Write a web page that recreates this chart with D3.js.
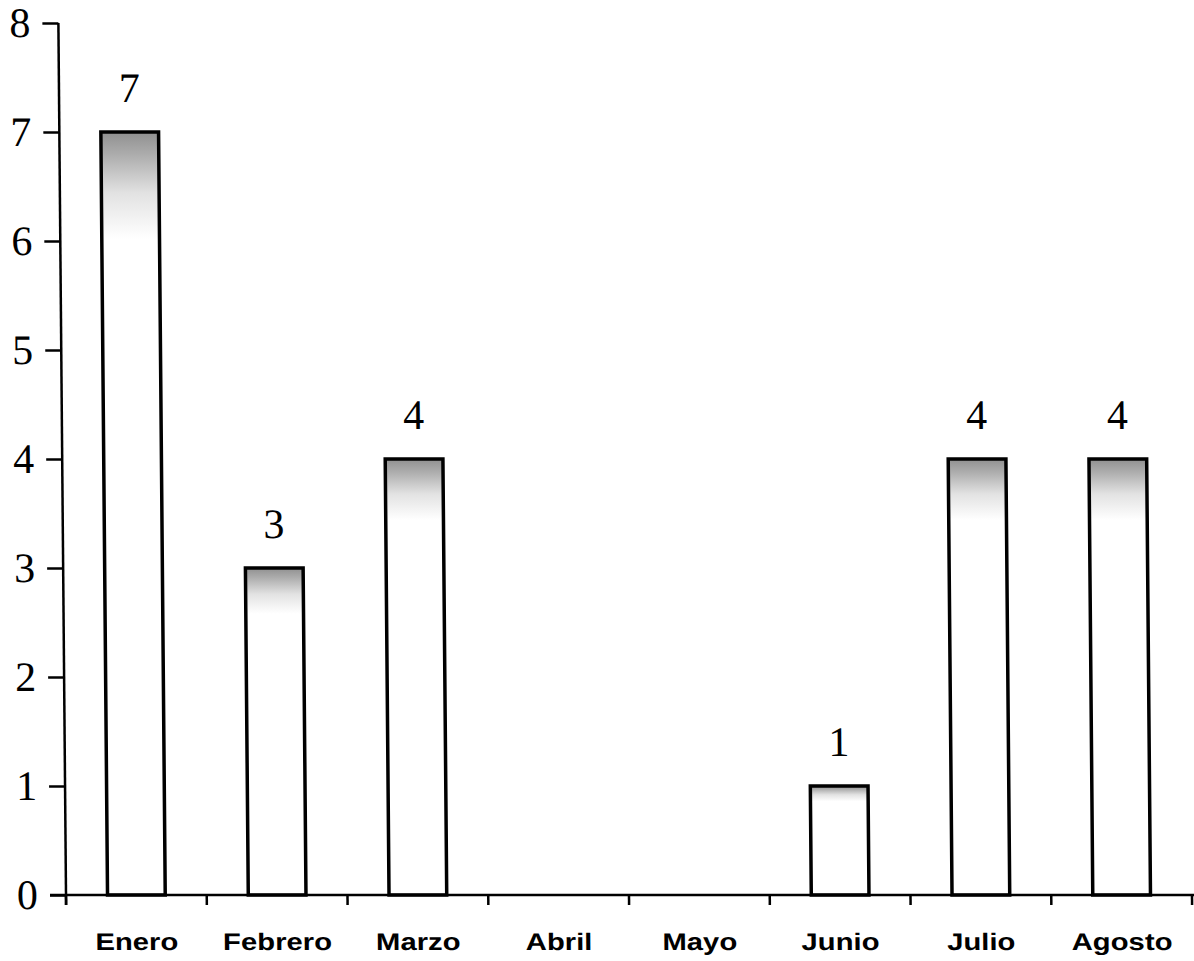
<!DOCTYPE html>
<html>
<head>
<meta charset="utf-8">
<script src="https://cdn.jsdelivr.net/npm/d3@7"></script>
<style>
  html, body { margin: 0; padding: 0; background: #fff; }
  svg { display: block; }
</style>
</head>
<body>
<script>
// Monthly counts
const months = ["Enero", "Febrero", "Marzo", "Abril", "Mayo", "Junio", "Julio", "Agosto"];
const counts = [7, 3, 4, 0, 0, 1, 4, 4];
const yTicks = [0, 1, 2, 3, 4, 5, 6, 7, 8];

const W = 1194, H = 961;
const baseY = 895;

const svg = d3.select("body").append("svg")
  .attr("width", W).attr("height", H);

const defs = svg.append("defs");
const grad = defs.append("linearGradient")
  .attr("id", "barFill")
  .attr("x1", 0).attr("y1", 0).attr("x2", 0).attr("y2", 1);
grad.append("stop").attr("offset", 0).attr("stop-color", "#909090");
grad.append("stop").attr("offset", 0.03).attr("stop-color", "#adadad");
grad.append("stop").attr("offset", 0.08).attr("stop-color", "#e2e2e2");
grad.append("stop").attr("offset", 0.14).attr("stop-color", "#ffffff");

// slight lean of the whole chart, pivoting on the baseline
const g = svg.append("g")
  .attr("transform", `translate(0,${baseY}) skewX(0.5) translate(0,${-baseY})`);

const x = d3.scaleBand()
  .domain(months)
  .range([66, 1192])
  .paddingInner(0.59)
  .paddingOuter(0.295);

const y = d3.scaleLinear()
  .domain([0, 8])
  .range([baseY, 23]);

// bars
g.selectAll("rect.bar")
  .data(counts)
  .join("rect")
  .attr("class", "bar")
  .attr("x", (d, i) => x(months[i]))
  .attr("y", d => y(d))
  .attr("width", x.bandwidth())
  .attr("height", d => baseY - y(d))
  .attr("fill", "url(#barFill)")
  .attr("stroke", "#000")
  .attr("stroke-width", 3.5);

// value labels
g.selectAll("text.val")
  .data(counts.map((d, i) => ({ d, m: months[i] })).filter(o => o.d > 0))
  .join("text")
  .attr("class", "val")
  .attr("x", o => x(o.m) + x.bandwidth() / 2)
  .attr("y", o => y(o.d) - 30)
  .attr("text-anchor", "middle")
  .attr("font-family", "'Liberation Serif', 'DejaVu Serif', serif")
  .attr("font-size", 42)
  .attr("fill", "#000")
  .text(o => o.d);

// y axis
const yAxis = d3.axisLeft(y)
  .tickValues(yTicks)
  .tickSize(16)
  .tickPadding(12)
  .tickFormat(d3.format("d"));

const ya = g.append("g")
  .attr("transform", "translate(66,0)")
  .call(yAxis);
ya.select(".domain").attr("stroke-width", 2.5).attr("d", `M0,${y(8)}V${baseY + 10}`);
ya.selectAll(".tick line").attr("stroke-width", 2.5);
ya.selectAll(".tick text")
  .attr("font-family", "'Liberation Serif', 'DejaVu Serif', serif")
  .attr("font-size", 42)
  .attr("fill", "#000");

// x axis
const xTickPos = months.map(m => x(m) - (x.step() - x.bandwidth()) / 2).concat([1192]);
const xa = g.append("g");
xa.append("line")
  .attr("x1", 50).attr("x2", 1194)
  .attr("y1", baseY).attr("y2", baseY)
  .attr("stroke", "#000").attr("stroke-width", 2.5);
xa.selectAll("line.xt")
  .data(xTickPos)
  .join("line")
  .attr("class", "xt")
  .attr("x1", d => d).attr("x2", d => d)
  .attr("y1", baseY).attr("y2", baseY + 10)
  .attr("stroke", "#000").attr("stroke-width", 2.5);

// month labels, slightly stretched horizontally
xa.selectAll("g.lab")
  .data(months)
  .join("g")
  .attr("class", "lab")
  .attr("transform", m => `translate(${x(m) + x.bandwidth() / 2},950) scale(1.22,1)`)
  .append("text")
  .attr("text-anchor", "middle")
  .attr("font-family", "'Liberation Sans', Arial, sans-serif")
  .attr("font-weight", "bold")
  .attr("font-size", 24)
  .attr("fill", "#000")
  .text(m => m);
</script>
</body>
</html>
